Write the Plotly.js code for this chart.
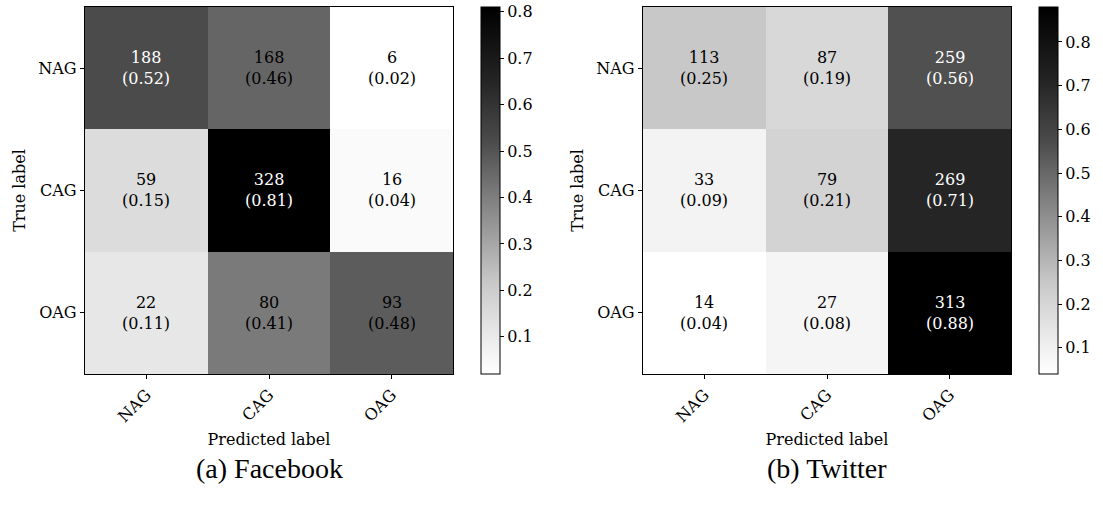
<!DOCTYPE html>
<html>
<head>
<meta charset="utf-8">
<script src="https://cdn.plot.ly/plotly-3.0.1.min.js"></script>
<style>html,body{margin:0;padding:0;background:#fff;}#chart{width:1103px;height:507px;}</style>
</head>
<body>
<div id="chart"></div>
<script>
// ---- data ----
const categories = ["NAG", "CAG", "OAG"];
const fbCounts = [[188, 168, 6], [59, 328, 16], [22, 80, 93]];
const fbNorm = [[0.52, 0.46, 0.02], [0.15, 0.81, 0.04], [0.11, 0.41, 0.48]];
const twCounts = [[113, 87, 259], [33, 79, 269], [14, 27, 313]];
const twNorm = [[0.25, 0.19, 0.56], [0.09, 0.21, 0.71], [0.04, 0.08, 0.88]];
const captions = ["(a) Facebook", "(b) Twitter"];
const cbTicks = [0.1, 0.2, 0.3, 0.4, 0.5, 0.6, 0.7, 0.8];

// ---- styling ----
const W = 1103, H = 507;
const FONT = "DejaVu Serif";
const FS = 16;
const greyScale = [
  [0, "rgb(255,255,255)"], [0.12, "rgb(230,230,230)"], [0.25, "rgb(200,200,200)"],
  [0.5, "rgb(120,120,120)"], [0.63, "rgb(76,76,76)"], [0.8, "rgb(36,36,36)"], [1, "rgb(0,0,0)"]
];
const yDom = [1 - 374 / H, 1 - 7 / H];
const panels = [
  {counts: fbCounts, norm: fbNorm, x0: 85, x1: 453, cbx: 481, xa: "x", ya: "y"},
  {counts: twCounts, norm: twNorm, x0: 643, x1: 1011, cbx: 1039, xa: "x2", ya: "y2"}
];

const idx = categories.map((c, i) => i);
const traces = [];
const annotations = [];
const layout = {
  width: W, height: H,
  margin: {l: 0, r: 0, t: 0, b: 0},
  paper_bgcolor: "#fff", plot_bgcolor: "#fff",
  font: {family: FONT, size: FS, color: "#000"},
  showlegend: false
};

panels.forEach((p, k) => {
  const sfx = k === 0 ? "" : String(k + 1);
  traces.push({
    type: "heatmap",
    x: idx, y: idx, z: p.norm,
    xaxis: p.xa, yaxis: p.ya,
    colorscale: greyScale,
    hoverinfo: "skip",
    colorbar: {
      x: p.cbx / W, xanchor: "left", xref: "paper",
      y: (yDom[0] + yDom[1]) / 2, yanchor: "middle",
      len: yDom[1] - yDom[0], lenmode: "fraction",
      thickness: 19, thicknessmode: "pixels",
      xpad: 0, ypad: 0,
      outlinewidth: 1, outlinecolor: "#000",
      ticks: "outside", ticklen: 4, tickcolor: "#000",
      tickvals: cbTicks, ticktext: cbTicks.map(v => v.toFixed(1)),
      tickfont: {family: FONT, size: FS, color: "#000"}
    }
  });
  layout["xaxis" + sfx] = {
    domain: [p.x0 / W, p.x1 / W],
    anchor: p.ya,
    range: [-0.5, 2.5],
    tickvals: idx, ticktext: categories, tickangle: -45,
    ticks: "outside", ticklen: 4, tickcolor: "#000",
    showline: true, mirror: true, linecolor: "#000", linewidth: 1.2,
    showgrid: false, zeroline: false,
    tickfont: {family: FONT, size: FS, color: "#000"},
    title: {text: "Predicted label", font: {family: FONT, size: FS, color: "#000"}, standoff: 8}
  };
  layout["yaxis" + sfx] = {
    domain: yDom,
    anchor: p.xa,
    range: [2.5, -0.5],
    tickvals: idx, ticktext: categories,
    ticks: "outside", ticklen: 4, tickcolor: "#000",
    showline: true, mirror: true, linecolor: "#000", linewidth: 1.2,
    showgrid: false, zeroline: false,
    tickfont: {family: FONT, size: FS, color: "#000"},
    title: {text: "True label", font: {family: FONT, size: FS, color: "#000"}, standoff: 8}
  };
  p.counts.forEach((row, r) => row.forEach((c, col) => {
    const v = p.norm[r][col];
    annotations.push({
      x: col, y: r, xref: p.xa, yref: p.ya,
      text: c + "<br>(" + v.toFixed(2) + ")",
      showarrow: false,
      font: {family: FONT, size: FS, color: v > 0.5 ? "#fff" : "#000"}
    });
  }));
  annotations.push({
    x: (p.x0 + p.x1) / 2 / W, y: 1 - 468 / H, xref: "paper", yref: "paper",
    xanchor: "center", yanchor: "middle",
    text: captions[k], showarrow: false,
    font: {family: "Liberation Serif", size: 28, color: "#000"}
  });
});
layout.annotations = annotations;

Plotly.newPlot("chart", traces, layout, {staticPlot: true, displayModeBar: false});
</script>
</body>
</html>
